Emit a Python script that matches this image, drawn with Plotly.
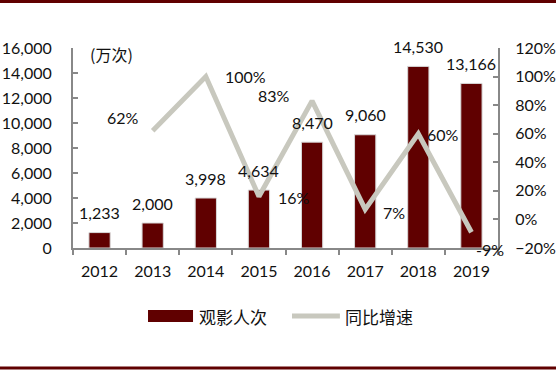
import plotly.graph_objects as go

years = ["2012", "2013", "2014", "2015", "2016", "2017", "2018", "2019"]
viewers = [1233, 2000, 3998, 4634, 8470, 9060, 14530, 13166]
growth_years = ["2013", "2014", "2015", "2016", "2017", "2018", "2019"]
growth = [62, 100, 16, 83, 7, 60, -9]

# label offsets (pixels) for growth labels
growth_dx = [-30, 40, 35, -38, 29, 25, 19]
growth_dy = [13, 0, -1, 5, -3, -1, -17]

BAR = "#600000"
LINE = "#C8C8BE"
AXIS = "#888888"
TXT = "#111111"
NUMFONT = dict(family="Lato", size=16, color=TXT)
CJKFONT = dict(family="Noto Sans CJK SC", size=16, color=TXT)
LEGFONT = dict(family="Noto Sans CJK SC", size=17, color=TXT)

fig = go.Figure()
fig.add_trace(go.Bar(x=years, y=viewers, name="观影人次", marker=dict(color=BAR, line=dict(color="#D8D8D8", width=1)),
                     yaxis="y"))
fig.add_trace(go.Scatter(x=growth_years, y=growth, name="同比增速", mode="lines",
                         line=dict(color=LINE, width=5), yaxis="y2"))

ann = []
for x, v in zip(years, viewers):
    ann.append(dict(x=years.index(x), y=v, xref="x", yref="y", text=f"{v:,}", showarrow=False,
                    yshift=20, font=NUMFONT, xanchor="center", yanchor="middle"))
for x, g, dx, dy in zip(growth_years, growth, growth_dx, growth_dy):
    ann.append(dict(x=years.index(x), y=g, xref="x", yref="y2", text=f"{g}%", showarrow=False,
                    xshift=dx, yshift=dy, font=NUMFONT, xanchor="center", yanchor="middle"))
ann.append(dict(x=0.035, y=0.97, xref="paper", yref="paper", text="(万次)", showarrow=False,
                font=CJKFONT, xanchor="left", yanchor="middle"))
# legend texts
ann.append(dict(x=0.292, y=-0.34, xref="paper", yref="paper", text="观影人次", showarrow=False,
                font=LEGFONT, xanchor="left", yanchor="middle"))
ann.append(dict(x=0.635, y=-0.34, xref="paper", yref="paper", text="同比增速", showarrow=False,
                font=LEGFONT, xanchor="left", yanchor="middle"))

shapes = [
    dict(type="line", xref="paper", yref="paper", x0=-73/425, x1=1+58/425, y0=1.2325, y1=1.2325,
         line=dict(color=BAR, width=3)),
    dict(type="line", xref="paper", yref="paper", x0=-73/425, x1=1+58/425, y0=-0.6, y1=-0.6,
         line=dict(color=BAR, width=3)),
    dict(type="rect", xref="paper", yref="paper", x0=0.1765, x1=0.2824, y0=-0.31, y1=-0.37,
         fillcolor=BAR, line=dict(width=0)),
    dict(type="line", xref="paper", yref="paper", x0=0.5153, x1=0.628, y0=-0.34, y1=-0.34,
         line=dict(color=LINE, width=5)),
]

fig.update_layout(
    width=556, height=370,
    margin=dict(l=73, r=58, t=48, b=122, autoexpand=False),
    paper_bgcolor="white", plot_bgcolor="white",
    showlegend=False,
    bargap=0.6,
    annotations=ann,
    shapes=shapes,
    xaxis=dict(type="category", range=[-0.5, 7.5], showline=True, linecolor=AXIS, linewidth=2,
               ticks="outside", tickson="boundaries", ticklen=5, tickcolor=AXIS, tickwidth=2,
               tickfont=NUMFONT, ticklabelstandoff=8, showgrid=False, zeroline=False),
    yaxis=dict(range=[0, 16000], dtick=2000, tickformat=",", showline=True, linecolor=AXIS, linewidth=2,
               ticks="inside", ticklen=5, tickcolor=AXIS, tickwidth=2, tickfont=NUMFONT,
               ticklabelstandoff=16, showgrid=False, zeroline=False),
    yaxis2=dict(range=[-20, 120], dtick=20, ticksuffix="%", overlaying="y", side="right",
                showline=True, linecolor=AXIS, linewidth=2, ticks="inside", ticklen=5, tickcolor=AXIS,
                tickwidth=2, tickfont=NUMFONT, ticklabelstandoff=12, showgrid=False, zeroline=False),
)

fig.write_html("out.html", config={"displayModeBar": False},
               post_script="document.body.style.margin='0';document.body.style.overflow='hidden';")
